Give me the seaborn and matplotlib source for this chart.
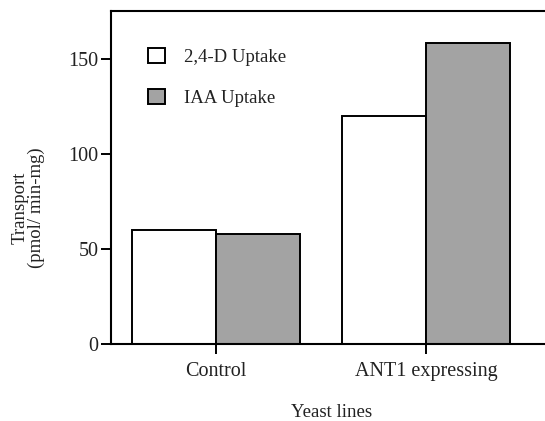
import pandas as pd
import numpy as np
import matplotlib.pyplot as plt
import seaborn as sns

# datos
lineas = ['Control', 'ANT1 expressing']
series = ['2,4-D Uptake', 'IAA Uptake']
valores_24d = [60, 120]
valores_iaa = [58, 158]

df = pd.DataFrame({
    'linea': lineas * 2,
    'serie': [series[0]] * 2 + [series[1]] * 2,
    'transporte': valores_24d + valores_iaa,
})

sns.set_theme(style='white')
plt.rcParams['font.family'] = ['Liberation Serif', 'DejaVu Serif']

fig = plt.figure(figsize=(5.45, 4.21), dpi=100)
ax = fig.add_axes([0.2037, 0.182, 0.809, 0.792])

sns.barplot(data=df, x='linea', y='transporte', hue='serie',
            palette=['white', '#a3a3a3'], edgecolor='black', linewidth=1.4,
            width=0.8, ax=ax)

ax.set_xlim(-0.5, 1.6)
ax.set_ylim(0, 175)
ax.set_yticks([0, 50, 100, 150])

for lado in ['left', 'bottom', 'top', 'right']:
    ax.spines[lado].set_color('black')
    ax.spines[lado].set_linewidth(1.5)

ax.tick_params(axis='both', direction='out', length=7, width=1.4, color='black',
               labelsize=14.5, labelcolor='#222222', left=True, bottom=True)
ax.tick_params(axis='x', pad=6)
ax.tick_params(axis='y', pad=2)

ax.set_xlabel('Yeast lines', fontsize=13.5, color='#222222', labelpad=16)
ax.set_ylabel('Transport\n(pmol/ min-mg)', fontsize=13.5, color='#222222', linespacing=0.95)
ax.yaxis.set_label_coords(-0.15, 0.41)

handles, labels = ax.get_legend_handles_labels()
ax.legend(handles, labels, loc='upper left', bbox_to_anchor=(0.046, 0.94),
          frameon=False, fontsize=13.5, handlelength=0.9, handleheight=0.9,
          labelspacing=1.2, handletextpad=1.0, labelcolor='#222222')

plt.savefig('out.png', dpi=100)
plt.close()
